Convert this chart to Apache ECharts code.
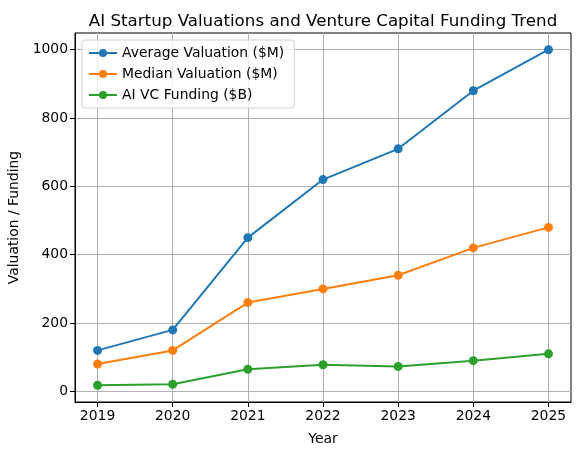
<!DOCTYPE html>
<html>
<head>
<meta charset="utf-8">
<script src="https://cdn.jsdelivr.net/npm/echarts@6/dist/echarts.min.js"></script>
<style>
  html, body { margin: 0; padding: 0; background: #fff; }
  #main { width: 580px; height: 455px; }
</style>
</head>
<body>
<div id="main"></div>
<script>
var years = [2019, 2020, 2021, 2022, 2023, 2024, 2025];
var avgValuation = [120, 180, 450, 620, 710, 880, 1000];
var medianValuation = [80, 120, 260, 300, 340, 420, 480];
var vcFunding = [18, 21, 65, 78, 73, 90, 110];
var yTicks = [0, 200, 400, 600, 800, 1000];

var font = 'DejaVu Sans';
var myChart = echarts.init(document.getElementById('main'));

function pairs(vals) {
  return years.map(function (y, i) { return [y, vals[i]]; });
}

function line(name, color, vals) {
  return {
    name: name,
    type: 'line',
    data: pairs(vals),
    symbol: 'circle',
    symbolSize: 9,
    showSymbol: true,
    lineStyle: { color: color, width: 2 },
    itemStyle: { color: color },
    emphasis: { disabled: true },
    animation: false,
    z: 3
  };
}

var plain = function (v) { return String(v); };

var option = {
  animation: false,
  title: {
    text: 'AI Startup Valuations and Venture Capital Funding Trend',
    left: 318,
    textAlign: 'center',
    top: 8,
    textStyle: { fontFamily: font, fontSize: 16.7, fontWeight: 'normal', color: '#000' }
  },
  legend: {
    orient: 'vertical',
    left: 82,
    top: 40,
    itemWidth: 28,
    itemHeight: 10,
    itemGap: 7,
    padding: [6, 10, 6, 6],
    backgroundColor: 'rgba(255,255,255,0.8)',
    borderColor: '#d0d0d0',
    borderWidth: 1,
    borderRadius: 3,
    textStyle: { fontFamily: font, fontSize: 13.9, color: '#000' },
    data: ['Average Valuation ($M)', 'Median Valuation ($M)', 'AI VC Funding ($B)']
  },
  grid: {
    left: 75,
    right: 9,
    top: 33,
    bottom: 53,
    containLabel: false,
    outerBoundsMode: 'none',
    show: true,
    borderColor: '#000',
    borderWidth: 1,
    backgroundColor: 'transparent'
  },
  xAxis: {
    type: 'value',
    min: 2018.7,
    max: 2025.3,
    name: 'Year',
    nameLocation: 'middle',
    nameGap: 30,
    nameTextStyle: { fontFamily: font, fontSize: 13.9, color: '#000' },
    axisLine: { show: true, onZero: false, lineStyle: { color: '#000' } },
    axisTick: { show: true, length: 5, customValues: years, lineStyle: { color: '#000' } },
    axisLabel: { customValues: years, formatter: plain, fontFamily: font, fontSize: 13.9, color: '#000', margin: 7 },
    splitLine: { show: true, lineStyle: { color: '#b0b0b0', width: 1 } }
  },
  yAxis: {
    type: 'value',
    min: -31,
    max: 1049,
    name: 'Valuation / Funding',
    nameLocation: 'middle',
    nameGap: 48,
    nameTextStyle: { fontFamily: font, fontSize: 13.9, color: '#000' },
    axisLine: { show: true, lineStyle: { color: '#000' } },
    axisTick: { show: true, length: 5, customValues: yTicks, lineStyle: { color: '#000' } },
    axisLabel: { customValues: yTicks, formatter: plain, fontFamily: font, fontSize: 13.9, color: '#000', margin: 7 },
    splitLine: { show: true, lineStyle: { color: '#b0b0b0', width: 1 } }
  },
  series: [
    line('Average Valuation ($M)', '#1f77b4', avgValuation),
    line('Median Valuation ($M)', '#ff7f0e', medianValuation),
    line('AI VC Funding ($B)', '#2ca02c', vcFunding)
  ]
};

myChart.setOption(option);
</script>
</body>
</html>
